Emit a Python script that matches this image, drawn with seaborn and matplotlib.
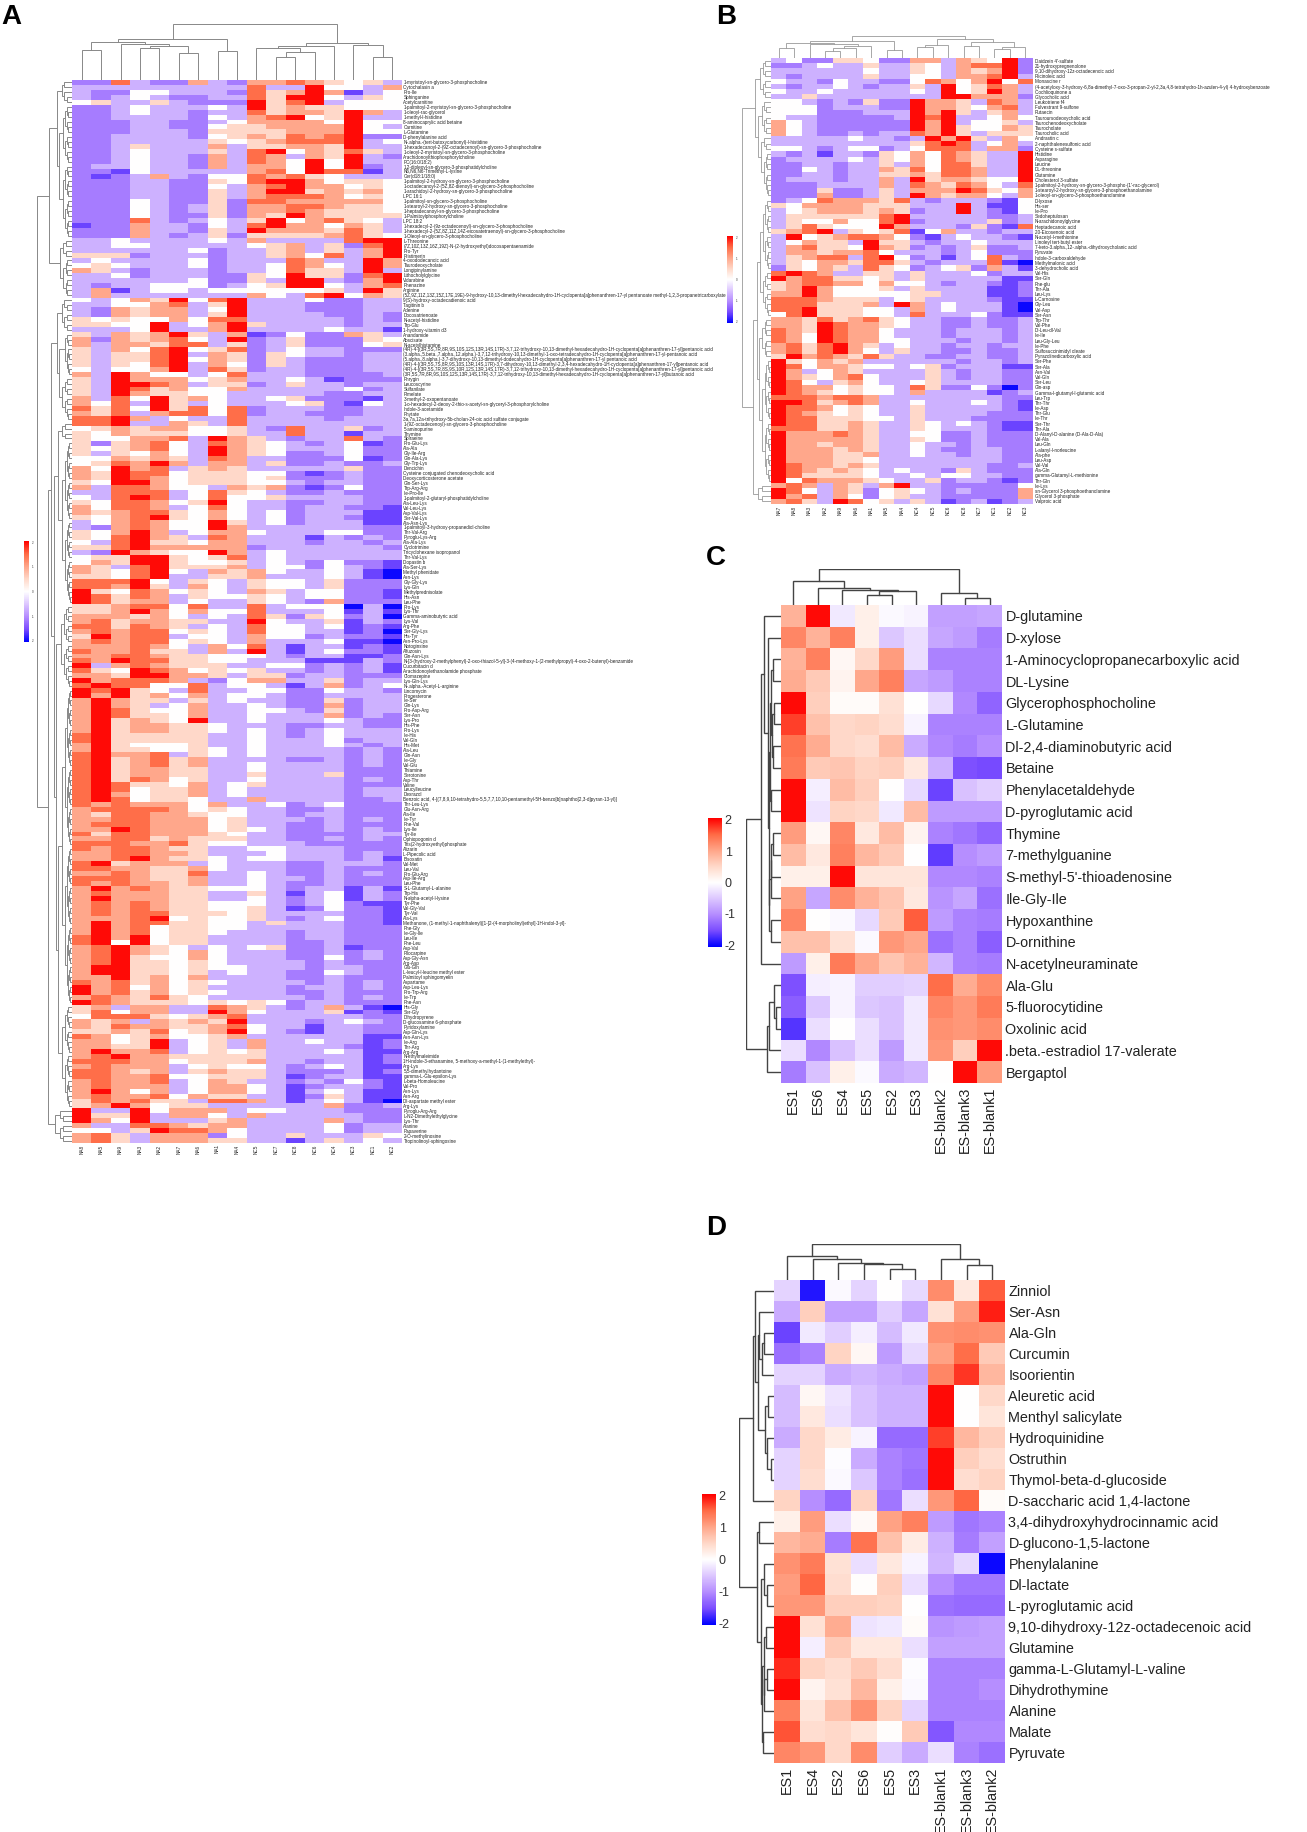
import matplotlib
matplotlib.use('Agg')
import matplotlib.pyplot as plt
from matplotlib.colors import LinearSegmentedColormap
import numpy as np
import pandas as pd
import seaborn as sns

sns.set_style('white')
plt.rcParams['font.family'] = ['Liberation Sans', 'DejaVu Sans']
plt.rcParams['axes.unicode_minus'] = False

W, H = 1307, 1832

# what the colour steps used in A_levels / B_levels stand for
level_values = [-2, -1.6, -1.15, -.7, 0, .5, 1, 1.5, 2]

A_cols = ['NA8', 'NA5', 'NA9', 'NA3', 'NA2', 'NA7', 'NA6', 'NA1', 'NA4',
          'NC5', 'NC7', 'NC8', 'NC6', 'NC4', 'NC3', 'NC1', 'NC2']
A_rows = [
    '1-myristoyl-sn-glycero-3-phosphocholine', 'Cytochalasin a', 'Pro-Ile', 'Sphinganine', 'Acetylcarnitine',
    '1-palmitoyl-2-myristoyl-sn-glycero-3-phosphocholine', '1-oleoyl-rac-glycerol', '1-methyl-l-histidine',
    '8-aminocaprylic acid betaine', 'Carnitine', 'L-Glutamine', 'D-phenylalanine acid',
    'N-.alpha.-(tert-butoxycarbonyl)-l-histidine', '1-hexadecanoyl-2-(9Z-octadecenoyl)-sn-glycero-3-phosphocholine',
    '1-oleoyl-2-myristoyl-sn-glycero-3-phosphocholine', 'Arachidonoylthiophosphorylcholine', 'PC(16:0/18:2)',
    '1,2-dioleoyl-sn-glycero-3-phosphatidylcholine', 'N6,N6,N6-Trimethyl-L-lysine', 'Cer(d18:1/18:0)',
    '1-palmitoyl-2-hydroxy-sn-glycero-3-phosphocholine', '1-octadecanoyl-2-(5Z,8Z-dienoyl)-sn-glycero-3-phosphocholine',
    '1-arachidoyl-2-hydroxy-sn-glycero-3-phosphocholine', 'LPC 16:1', '1-palmitoyl-sn-glycero-3-phosphocholine',
    '1-stearoyl-2-hydroxy-sn-glycero-3-phosphocholine', '1-heptadecanoyl-sn-glycero-3-phosphocholine',
    '1-Palmitoylphosphorylcholine', 'LPC 18:2', '1-hexadecyl-2-(9z-octadecenoyl)-sn-glycero-3-phosphocholine',
    '1-hexadecyl-2-(5Z,8Z,11Z,14Z-eicosatetraenoyl)-sn-glycero-3-phosphocholine', '1-Oleoyl-sn-glycero-3-phosphocholine',
    'L-Threonine', '(7Z,10Z,13Z,16Z,19Z)-N-(2-hydroxyethyl)docosapentaenamide', 'Pro-Tyr', 'Pristimerin',
    '4-oxododecanoic acid', 'Taurodeoxycholate', 'Longipinylamine', 'Lithocholylglycine', 'Vidarabine', 'Phenazine',
    'Arginine',
    '(5Z,9Z,11Z,13Z,15Z,17E,19E)-9-hydroxy-10,13-dimethyl-hexadecahydro-1H-cyclopenta[a]phenanthren-17-yl pentanoate methyl-1,2,3-propanetricarboxylate',
    '9(S)-hydroxy-octadecadienoic acid', 'Tagitinin b', 'Adenine', 'Docosatrienoate', 'N-acetyl-histidine', 'Trp-Glu',
    '1-hydroxy-vitamin d3', 'Anandamide', 'Abscisate', 'N-acetylhistamine',
    '(4R)-4-[(3R,5S,7R,8R,9S,10S,12S,13R,14S,17R)-3,7,12-trihydroxy-10,13-dimethyl-hexadecahydro-1H-cyclopenta[a]phenanthren-17-yl]pentanoic acid',
    '(3.alpha.,5.beta.,7.alpha.,12.alpha.)-3,7,12-trihydroxy-10,13-dimethyl-1-oxo-tetradecahydro-1H-cyclopenta[a]phenanthren-17-yl-pentanoic acid',
    '(5.alpha.,8.alpha.)-3,7-dihydroxy-10,13-dimethyl-dodecahydro-1H-cyclopenta[a]phenanthren-17-yl pentanoic acid',
    '(4R)-4-[(3R,5S,7S,8R,9S,10S,13R,14S,17R)-3,7-dihydroxy-10,13-dimethyl-2,3,4-hexadecahydro-1H-cyclopenta[a]phenanthren-17-yl]pentanoic acid',
    '(4R)-4-[(3R,5S,7R,8S,9S,10R,12S,13R,14S,17R)-3,7,12-trihydroxy-10,13-dimethyl-hexadecahydro-1H-cyclopenta[a]phenanthren-17-yl]pentanoic acid',
    '(3R,5S,7R,8R,9S,10S,12S,13R,14S,17R)-3,7,12-trihydroxy-10,13-dimethyl-hexadecahydro-1H-cyclopenta[a]phenanthren-17-yl]butanoic acid',
    'Phrygin', 'Leucoscyrine', 'Sulfanilate', 'Pimelate', '3-methyl-2-oxopentanoate',
    '1-o-hexadecyl-2-deoxy-2-thio-s-acetyl-sn-glyceryl-3-phosphorylcholine', 'Indole-3-acetamide', 'Phytate',
    '3a,7a,12a-trihydroxy-5b-cholan-24-oic acid sulfate conjugate',
    '1-(9Z-octadecenoyl)-sn-glycero-3-phosphocholine', '5-aminopurine', 'Thymine', 'Spiraeine', 'Pro-Glu-Lys',
    'Ala-Ala', 'Gly-Ile-Arg', 'Gln-Ala-Lys', 'Gly-Trp-Lys', 'Dencichin', 'Cysteine conjugated chenodeoxycholic acid',
    'Deoxycorticosterone acetate', 'Gln-Ser-Lys', 'Trp-Arg-Arg', 'Ile-Pro-Ile',
    '1-palmitoyl-2-glutaryl-phosphatidylcholine', 'Ala-Leu-Lys', 'Val-Leu-Lys', 'Asp-Val-Lys', 'Ser-Val-Lys',
    'Ala-Asn-Lys', '1-palmitoyl-3-hydroxy-propanediol-choline', 'Thr-Val-Arg', 'Pyroglu-Lys-Arg', 'Ala-Ala-Lys',
    'Cyclotrimine', 'Tricyclohexane isopropanol', 'Thr-Val-Lys', 'Dopastin b', 'Ala-Ser-Lys', 'Methyl phenidate',
    'Asn-Lys', 'Gly-Gly-Lys', 'Lys-Gln', 'Methylprednisolate', 'His-Asn', 'Leu-Phe', 'Pro-Lys', 'Lys-Thr',
    'Gamma-aminobutyric acid', 'Lys-Val', 'Arg-Phe', 'Ser-Gly-Lys', 'His-Tyr', 'Asn-Pro-Lys', 'Notoginsine',
    'Alfuzosin', 'Gln-Asn-Lys',
    'N-[3-(hydroxy-2-methylphenyl)-2-oxo-thiazol-5-yl]-3-(4-methoxy-1-(2-methylpropyl)-4-oxo-2-butenyl)-benzamide',
    'Cucurbitacin d', 'Arachidonoylethanolamide phosphate', 'Clomazepine', 'Lys-Gln-Lys', 'N-.alpha.-Acetyl-L-arginine',
    'Lincomycin', 'Progesterone', 'Ile-Ser', 'Gln-Lys', 'Pro-Asp-Arg', 'Ser-Asn', 'Lys-Pro', 'His-Phe', 'Pro-Lys',
    'Ile-His', 'Val-Gln', 'His-Met', 'Ala-Leu', 'Gln-Asn', 'Ile-Gly', 'Val-Glu', 'Thiamine', 'Serotonine', 'Asp-Thr',
    'Valine', 'Leucylleucine', 'Dexrazol',
    'Benzoic acid, 4-[(7,8,9,10-tetrahydro-5,5,7,7,10,10-pentamethyl-5H-benzo[b]naphtho[2,3-d]pyran-13-yl)]',
    'Thr-Leu-Lys', 'Glu-Asn-Arg', 'Ala-Ile', 'Ile-Tyr', 'Phe-Val', 'Lys-Ile', 'Tyr-Ile', 'Ophiopogonin d',
    'Tris(2-hydroxyethyl)phosphate', 'Alizarin', 'L-Pipecolic acid', 'Bisoxatin', 'Val-Met', 'Leu-Val', 'Pro-Glu-Arg',
    'Asp-Ile-Arg', 'Leu-Phe', 'S-L-Glutamyl-L-alanine', 'Trp-His', 'N-alpha-acetyl-l-lysine', 'Tyr-Phe', 'Val-Gly-Val',
    'Tyr-Val', 'Ala-Lys', 'Methanone, (1-methyl-1-naphthalenyl)[1-[2-(4-morpholinyl)ethyl]-1H-indol-3-yl]-',
    'Phe-Gly', 'Ile-Gly-Ile', 'Leu-Ile', 'Phe-Leu', 'Asp-Val', 'Pilocarpine', 'Asp-Gly-Asn', 'Arg-Asp', 'Glu-Gln',
    'L-leucyl-l-leucine methyl ester', 'Palmitoyl sphingomyelin', 'Aspartame', 'Asp-Leu-Lys', 'Pro-Trp-Arg', 'Ile-Trp',
    'Phe-Asn', 'His-Gly', 'Ser-Gly', 'Dihydropyrene', 'D-glucosamine 6-phosphate', 'Pyridoxylamine', 'Asp-Gln-Lys',
    'Asn-Asn-Lys', 'Ile-Arg', 'Thr-Arg', 'Arg-Arg', 'N-ethylmaleimide',
    '1H-indole-3-ethanamine, 5-methoxy-a-methyl-1-(1-methylethyl)-', 'Arg-Lys', '5,5-dimethylhydantoine',
    'gamma-L-Glu-epsilon-Lys', 'L-beta-Homoleucine', 'Val-Pro', 'Asn-Lys', 'Asn-Arg', 'Dl-aspartate methyl ester',
    'Arg-Lys', 'Pyroglu-Arg-Arg', 'L-N2-Dimethylethylglycine', 'Lys-Thr', 'Alanine', 'Papaverine', '2-O-methylinosine',
    'Tropinolinoyl-sphingosine',
]
A_levels = [
    '227322632 66765453', '333333333 73384436', '322443332 75686134', '323432233 75884354', '453353222 85783444',
    '223433343 85655444', '223433233 75665863', '223333243 67845833', '222332234 66664844', '222332245 56666843',
    '222333255 55666844', '223333245 65767822', '223333354 56777834', '223533363 55665833', '223433353 78465753',
    '223433263 76365832', '223433263 76484833', '233433263 66484823', '221433333 67487713', '212363244 76754333',
    '222332254 78864554', '222332243 67866454', '222332253 68856564', '222332253 67776454', '222432252 77666664',
    '222432352 66776554', '222432352 66765554', '222432252 65865555', '222732343 58467543', '122633243 78664653',
    '222633253 86665753', '222632352 55556754', '334333343 63333788', '334433333 45635278', '333333423 35635368',
    '555233323 35647368', '343333423 33763386', '454333423 34764386', '653233323 34755383', '334233322 54855278',
    '333333422 53883268', '323344423 45884367', '361344344 44445385', '363333333 64378465', '434658478 33342233',
    '334467358 33322233', '326566348 33322233', '326566358 33332232', '545446477 33333232', '554483468 53333233',
    '333483368 33334331', '536568536 12422653', '626567438 23522254', '636657735 23522245', '536478457 23433222',
    '535578365 25433233', '535578465 25322233', '535478364 25322233', '434468375 23322233', '638644347 33322223',
    '538666456 33431222', '538876355 23533233', '538756446 33333423', '538655443 33332233', '637485643 34522213',
    '647385343 33452143', '757485747 23332233', '657367747 23322233', '778634337 33332333', '778336537 33333333',
    '456566445 32733523', '546555445 33733133', '544667386 53233732', '525674376 54323412', '545674386 54333422',
    '535464386 54223422', '446565376 33222412', '457686366 35223223', '648673565 33333522', '658774555 44212322',
    '658764555 45222322', '548864555 44323322', '637764436 56212422', '337773475 43223222', '437873474 45333322',
    '547764584 33223322', '647763474 33233221', '656775464 34233311', '546785464 34233211', '346764485 34233311',
    '326764486 33333322', '546863466 43334422', '547865376 33313232', '437855466 33323323', '557866666 23333332',
    '328654486 34333333', '455885457 34333333', '465885445 34324221', '653785556 34424321', '654784365 64334310',
    '554783355 63334310', '777843543 54435222', '776853643 54435222', '854764543 65344221', '875763544 54344221',
    '875663433 54326222', '556774733 73444030', '556864644 73334131', '666564343 75254230', '675665533 84335132',
    '775765343 74434121', '676774543 74433120', '586773443 64423221', '676774543 63334110', '666764364 73133121',
    '766755363 83134221', '667765544 43233112', '768775544 33311132', '836765553 34423231', '754876454 53323231',
    '665886653 55233222', '867776324 66335233', '787744734 43136234', '878543733 44224332', '868564634 43223333',
    '686553534 33225233', '686534633 43226233', '687544633 44325233', '687554633 43336232', '685654833 43334322',
    '685665543 33223322', '685665543 43234333', '785555533 43234333', '785555533 43334233', '685444533 43334323',
    '685544543 43333232', '786673543 43333232', '785675633 33223232', '785675633 43333232', '785665533 43333222',
    '785665533 53335222', '785764533 43333232', '787554634 53333222', '787455634 33333233', '786455634 33333233',
    '787455433 63333223', '767666463 34234222', '677776454 33223222', '657766544 33233222', '667766645 33323232',
    '677766645 33223222', '668766645 43223232', '757766654 33222233', '667756555 33223232', '777667544 33322222',
    '767765533 44333222', '667766533 34333232', '667865543 44333231', '785666343 33223332', '776655643 33223222',
    '667655733 43223232', '777655633 43323222', '767665633 43223222', '686765544 43233131', '676665533 53134132',
    '686665533 43234132', '676765544 43234211', '676765544 53124221', '676775554 53333221', '666784544 53234221',
    '686775544 35333221', '686745544 33333222', '686745543 33233222', '786845533 33233222', '784845533 33223222',
    '678654343 45223122', '678654643 33223232', '678544643 33224232', '678554543 33323222', '688554544 33323322',
    '688554534 33224322', '668564633 33223222', '767564543 33323232', '867464533 33233232', '867564543 33223222',
    '676575433 33323232', '876555454 54233222', '563663376 53236310', '574663386 43335121', '477754567 33333322',
    '656365658 33323432', '657665567 43313322', '556574568 43213322', '764564456 33333311', '664583453 63343312',
    '665583453 63333212', '686673454 53334311', '678665555 53333312', '777664555 63323312', '676663454 43234311',
    '776563565 53222312', '776674455 53123311', '676673465 33232421', '676663466 43123321', '686463466 43134311',
    '676674655 33125311', '576755377 63134310', '568645533 33336223', '833846663 44333222', '855836643 63333322',
    '864833356 33336322', '633776566 33334233', '443587764 33334233', '675366624 33533354', '675366655 33135343',
]

B_cols = ['NA7', 'NA8', 'NA3', 'NA2', 'NA9', 'NA6', 'NA1', 'NA5', 'NA4',
          'NC4', 'NC5', 'NC6', 'NC8', 'NC7', 'NC1', 'NC2', 'NC3']
B_rows = [
    "Daidzein 4'-sulfate", '21-hydroxypregnenolone', '9,10-dihydroxy-12z-octadecenoic acid', 'Ricinoleic acid',
    'Monascine r',
    '(4-acetyloxy-3-hydroxy-6,8a-dimethyl-7-oxo-3-propan-2-yl-2,3a,4,8-tetrahydro-1h-azulen-4-yl) 4-hydroxybenzoate',
    'Cochlioquinone a', 'Glycocholic acid', 'Leukotriene f4', 'Fulvestrant 9-sulfone', 'Rutaecin',
    'Tauroursodeoxycholic acid', 'Taurochenodeoxycholate', 'Taurocholate', 'Taurocholic acid', 'Andrastin c',
    '2-naphthalenesulfonic acid', 'Cysteine s-sulfate', 'Histidine', 'Asparagine', 'Leucine', 'DL-threonine',
    'Glutamine', 'Cholesterol 3-sulfate',
    "1-palmitoyl-2-hydroxy-sn-glycero-3-phospho-(1'-rac-glycerol)",
    '1-stearoyl-2-hydroxy-sn-glycero-3-phosphoethanolamine', '1-oleoyl-sn-glycero-3-phosphoethanolamine', 'D-lyxose',
    'His-ser', 'Ile-Pro', 'Sedoheptulosan', 'N-arachidonoylglycine', 'Heptadecanoic acid', '20-Eicosenoic acid',
    'N-acetyl-l-methionine', 'Linoleyl tert-butyl ester', '7-keto-3.alpha.,12-.alpha.-dihydroxycholanic acid',
    'Pyruvate', 'Indole-3-carboxaldehyde', 'Methylmalonic acid', '3-dehydrocholic acid', 'Val-His', 'Ser-Gln',
    'Phe-glu', 'Thr-Ala', 'Leu-Lys', 'L-Carnosine', 'Gly-Leu', 'Val-Asp', 'Ser-Asn', 'Trp-Thr', 'Val-Phe',
    'Dl-Leu-dl-Val', 'Ile-Ile', 'Leu-Gly-Leu', 'Ile-Phe', 'Sulfosuccinimidyl oleate', 'Pyrazolinedicarboxylic acid',
    'Ser-Phe', 'Ser-Ala', 'Asn-Val', 'Val-Gln', 'Ser-Leu', 'Gln-asp', 'Gamma-l-glutamyl-l-glutamic acid', 'Leu-Trp',
    'Thr-Thr', 'Ile-Asp', 'Thr-Glu', 'Ile-Thr', 'Ser-Thr', 'Thr-Ala', 'D-Alanyl-D-alanine (D-Ala-D-Ala)', 'Val-Ala',
    'Leu-Gln', 'L-alanyl-l-norleucine', 'Ala-phe', 'Leu-Asp', 'Val-Val', 'Ala-Gln', 'gamma-Glutamyl-L-methionine',
    'Thr-Gln', 'Ile-Lys', 'sn-Glycerol 3-phosphoethanolamine', 'Glycerol 3-phosphate', 'Valproic acid',
]
B_levels = [
    '342255422 66365482', '223433533 54367782', '333333433 54365682', '323333533 44366783', '433243322 47646847',
    '323343233 53845763', '433433333 43845863', '335333333 33886662', '443232522 86653763', '444233322 86654673',
    '444222333 86853563', '433222223 87833464', '643222222 86834453', '643222222 86854465', '643223233 76853555',
    '333334332 38685364', '333333333 57873463', '443234423 47773662', '323133254 64765338', '233334354 64765338',
    '223323353 64775338', '224323365 74776338', '223323355 65776338', '233323363 85665448', '222333363 76576437',
    '222522353 66687546', '222622353 86566436', '234766657 32333214', '546666555 33383114', '345666565 23383214',
    '355555578 33333223', '354464478 23333523', '357544486 33325217', '567835457 14633233', '384567764 21343321',
    '346553855 32334333', '367554865 23235223', '366566743 33234222', '356773784 23134732', '354665775 32333710',
    '254653754 23452631', '787633553 53334233', '867755453 53333311', '567766464 43233212', '568644453 53333112',
    '668644444 55333112', '777655534 53333211', '777555638 63433310', '778555443 63433310', '478555443 73334211',
    '665756754 33223223', '665876654 33223223', '765876643 33233323', '764876643 33233323', '764876644 33323323',
    '675786534 33233233', '675786435 33223223', '586765753 32233223', '854656333 33323323', '874665443 45233311',
    '863465333 35323322', '865467433 35323322', '874356433 45333322', '876645443 75224202', '876545443 63333123',
    '777677633 33333322', '887567633 43334321', '877645433 53333321', '876545433 53333222', '877555443 53332222',
    '877556533 54343211', '777556533 54333211', '866676533 44223222', '866666533 54223222', '866566533 43323222',
    '866656533 43223322', '866655633 43323322', '866655433 33333322', '876656533 33333223', '876565434 33253222',
    '875555433 43443322', '847666543 35233212', '676365368 33222224', '874365245 43232226', '867364245 33222226',
    '675387453 53123123',
]

C_cols = ['ES1', 'ES6', 'ES4', 'ES5', 'ES2', 'ES3', 'ES-blank2', 'ES-blank3', 'ES-blank1']
C_rows = ['D-glutamine', 'D-xylose', '1-Aminocyclopropanecarboxylic acid', 'DL-Lysine', 'Glycerophosphocholine',
          'L-Glutamine', 'Dl-2,4-diaminobutyric acid', 'Betaine', 'Phenylacetaldehyde', 'D-pyroglutamic acid', 'Thymine',
          '7-methylguanine', "S-methyl-5'-thioadenosine", 'Ile-Gly-Ile', 'Hypoxanthine', 'D-ornithine',
          'N-acetylneuraminate', 'Ala-Glu', '5-fluorocytidine', 'Oxolinic acid', '.beta.-estradiol 17-valerate',
          'Bergaptol']
C_values = [
    [.9, 2, -.2, .2, -.05, -.1, -.85, -.85, -.8],
    [1.3, .9, 1.35, .2, -.5, -.3, -.8, -.9, -1.15],
    [.9, 1.35, .1, .5, 1.1, -.3, -1.1, -1.1, -1.1],
    [.95, .65, .15, 1.0, 1.35, -.8, -.9, -1.1, -1.1],
    [2, .6, .05, .05, .4, 0, -.35, -1.05, -1.35],
    [1.75, .75, .5, .55, .45, -.1, -1.1, -1.1, -1.1],
    [1.45, .95, .5, .45, .8, -.75, -1.05, -1.15, -1.0],
    [1.4, .65, .7, .55, .6, .3, -.7, -1.5, -1.55],
    [2, -.15, .8, .6, 0, -.35, -1.6, -.55, -.45],
    [2, -.25, .55, .5, -.2, .8, -.9, -.9, -.9],
    [1.1, .1, 1.3, .3, .8, .15, -1.1, -1.2, -1.35],
    [.8, .3, 1.35, .85, .65, 0, -1.65, -1, -.9],
    [.2, .2, 2, .35, .35, .35, -1.05, -1.05, -1.1],
    [1.05, -.8, 1.25, .9, .7, .3, -.95, -.8, -1.25],
    [1.3, 0, -.05, -.35, .65, 1.6, -.9, -1.1, -1.15],
    [.75, .75, .4, -.05, 1.15, 1, -1.25, -1.1, -1.4],
    [-.9, .2, 1.4, 1.0, .7, .9, -.65, -1.1, -1.15],
    [-1.5, -.15, -.1, -.45, -.45, -.4, 1.5, .95, 1.25],
    [-1.4, -.5, -.1, -.5, -.55, -.2, 1.3, 1.15, 1.4],
    [-1.7, -.3, 0, -.3, -.55, -.2, 1.2, 1.15, 1.25],
    [-.3, -1.05, -.55, -.3, -.9, -.2, 1.15, .6, 2],
    [-1.15, -.55, .2, -.05, -.75, -.65, 0, 2, 1.1],
]

D_cols = ['ES1', 'ES4', 'ES2', 'ES6', 'ES5', 'ES3', 'ES-blank1', 'ES-blank3', 'ES-blank2']
D_rows = ['Zinniol', 'Ser-Asn', 'Ala-Gln', 'Curcumin', 'Isoorientin', 'Aleuretic acid', 'Menthyl salicylate',
          'Hydroquinidine', 'Ostruthin', 'Thymol-beta-d-glucoside', 'D-saccharic acid 1,4-lactone',
          '3,4-dihydroxyhydrocinnamic acid', 'D-glucono-1,5-lactone', 'Phenylalanine', 'Dl-lactate',
          'L-pyroglutamic acid', '9,10-dihydroxy-12z-octadecenoic acid', 'Glutamine', 'gamma-L-Glutamyl-L-valine',
          'Dihydrothymine', 'Alanine', 'Malate', 'Pyruvate']
D_values = [
    [-.4, -1.9, -.05, -.4, 0, -.35, 1.25, .3, 1.6],
    [-.75, .6, -.85, -.85, -.45, -.8, .4, 1.1, 1.9],
    [-1.6, -.2, -.45, -.15, -.6, -.2, 1.2, 1.25, 1.2],
    [-1.25, -1.1, .55, .1, -.9, -.35, 1.05, 1.5, .65],
    [-.4, -.4, -.75, -.65, -.75, -.85, 1.3, 1.8, .85],
    [-.6, .1, -.25, -.55, -.7, -.7, 2, 0, .5],
    [-.6, .3, -.3, -.55, -.7, -.7, 2, 0, .35],
    [-.75, .5, .25, -.1, -1.3, -1.3, 1.75, .85, .6],
    [-.4, .5, -.02, -.75, -1.1, -1.2, 2, .6, .45],
    [-.4, .45, -.05, -.5, -1.1, -1.25, 2, .45, .55],
    [.55, -1, -1.3, .55, -1.2, -.3, 1.15, 1.55, .05],
    [.2, 1.1, -.3, .08, 1.05, 1.35, -.9, -1.2, -1.1],
    [.85, .95, -1.15, 1.45, .75, .25, -.7, -1.15, -.85],
    [1.2, 1.4, .4, -.3, .3, -.1, -.65, -.35, -2],
    [1.1, 1.55, .45, .02, .6, -.3, -1, -1.2, -1.2],
    [1.15, 1.15, .6, .6, .55, 0, -1.25, -1.3, -1.3],
    [2, .4, .95, -.25, -.2, .05, -.95, -.9, -.85],
    [2, -.15, .65, .3, .3, -.3, -.85, -.85, -.85],
    [1.85, .55, .45, .65, .45, -.03, -1.1, -1.1, -1.1],
    [2, .15, .4, .85, .2, -.05, -1.1, -1.1, -1.0],
    [1.35, .35, .75, 1.2, .55, -.4, -1.1, -1.1, -1.1],
    [1.65, .45, .5, .35, .02, .65, -1.45, -1.05, -1.05],
    [1.3, 1.15, .5, 1.25, -.45, -.75, -.3, -1.1, -1.25],
]

# cluster trees: (height, left, right), an int is that many leaves
A_col_tree = (1.0, (.73, (.68, (.54, 1, 1), (.64, 1, (.6, (.57, 1, 1), (.47, 1, 1)))), (.52, 1, 1)),
              (.66, (.6, (.56, 1, (.5, (.41, 1, 1), 1)), 1), (.62, 1, (.4, 1, 1))))
A_row_tree = (1.0, (.66, (.42, 5, (.38, 12, 15)), (.36, 4, 8)),
              (.68, (.6, (.42, 7, (.38, (.2, 3, 6), (.3, 4, 5))),
                     (.52, (.4, 4, 33), (.46, 17, (.4, 64, 21)))), 7))
B_col_tree = (1.0, (.8, (.7, (.45, 1, 1), (.65, 1, (.55, (.45, (.3, 1, 1), 1), 1))), (.38, 1, 1)),
              (.85, (.6, (.5, 1, 1), 1), (.75, (.55, 1, 1), (.5, (.4, 1, 1), 1))))
B_row_tree = (1.0, (.55, (.4, 4, 4), (.45, 7, (.35, 3, 9))),
              (.62, (.5, (.4, 14, 9), (.42, 8, 24)), 4))
C_col_tree = (1.0, (.67, 1, (.49, 1, (.41, 1, (.38, (.29, 1, 1), 1)))), (.33, 1, (.2, 1, 1)))
C_row_tree = (1.0, (.565, (.49, 1, (.38, 1, (.36, (.33, (.3, (.24, 1, 1), (.27, (.2, 1, 1), (.23, 1, 1))), (.29, 1, 1)),
                                       (.34, (.3, (.28, (.22, 1, 1), 1), 1), (.3, 1, 1))))), 1),
              (.41, (.35, (.2, 1, (.13, 1, 1)), 1), 1))
D_col_tree = (1.0, (.66, 1, (.58, 1, (.49, 1, (.46, 1, (.32, 1, 1))))), (.58, 1, (.41, 1, 1)))
D_row_tree = (1.0, (.6, (.56, 1, (.47, (.42, 1, (.34, (.3, 1, 1), 1)),
                                  (.26, (.18, 1, 1), (.21, 1, (.1, 1, 1))))), 1),
              (.5, (.42, 1, 1), (.38, (.3, 1, (.2, 1, 1)),
                                 (.36, (.3, (.24, 1, 1), (.28, (.2, 1, 1), 1)), (.32, 1, 1)))))

cmap = LinearSegmentedColormap.from_list('bwr_lab', [
    '#0000FF', '#7A4CFF', '#B48CFF', '#DCC6FF', '#FFFFFF',
    '#FFD8C8', '#FFA588', '#FF6A45', '#FF0000'], N=256)


def px_axes(fig, x0, y0, x1, y1):
    return fig.add_axes([x0 / W, 1 - y1 / H, (x1 - x0) / W, (y1 - y0) / H])


def draw_tree(ax, node, start, parent_h, horizontal):
    # returns leaf position and merge height, draws the forks on the way
    if isinstance(node, int):
        if node == 1:
            return start + .5, 0.0, start + 1
        k = node // 2
        node = (parent_h * .72, k, node - k)
    h, left, right = node
    p1, h1, nxt = draw_tree(ax, left, start, h, horizontal)
    p2, h2, nxt = draw_tree(ax, right, nxt, h, horizontal)
    xs = [p1, p1, p2, p2]
    ys = [h1, h, h, h2]
    if horizontal:
        ax.plot(xs, ys, color=ax.tree_color, lw=ax.tree_lw, solid_joinstyle='miter')
    else:
        ax.plot(ys, xs, color=ax.tree_color, lw=ax.tree_lw, solid_joinstyle='miter')
    return (p1 + p2) / 2, h, nxt


def dendro(fig, box, tree, n, horizontal, color, lw):
    ax = px_axes(fig, *box)
    ax.tree_color, ax.tree_lw = color, lw
    draw_tree(ax, tree, 0, 1.0, horizontal)
    if horizontal:
        ax.set_xlim(0, n)
        ax.set_ylim(0, 1.01)
    else:
        ax.set_ylim(n, 0)
        ax.set_xlim(1.01, 0)
    ax.axis('off')


def panel(fig, values, rows, cols, box, top_y, left_x, cbar_box, row_tree, col_tree,
          fs, cfs, cb_fs, color, lw, pad):
    x0, y0, x1, y1 = box
    df = pd.DataFrame(values, index=rows, columns=cols)
    ax = px_axes(fig, x0, y0, x1, y1)
    cax = px_axes(fig, *cbar_box)
    sns.heatmap(df, ax=ax, cmap=cmap, vmin=-2.06, vmax=2.06, cbar_ax=cax, linewidths=0,
                xticklabels=True, yticklabels=True, cbar_kws={'ticks': [-2, -1, 0, 1, 2]})
    ax.yaxis.tick_right()
    ax.tick_params(axis='y', length=0, pad=pad, labelsize=fs, labelcolor='#222222', rotation=0)
    ax.tick_params(axis='x', length=0, pad=pad, labelsize=cfs, labelcolor='#222222', rotation=90)
    ax.set_xlabel('')
    ax.set_ylabel('')
    cax.tick_params(axis='y', length=(cbar_box[2] - cbar_box[0]) * .2 * .72, width=.6, color='white', direction='in',
                    left=True, right=True, labelsize=cb_fs, pad=2, labelcolor='#333333')
    for s in cax.spines.values():
        s.set_visible(False)
    dendro(fig, (x0, top_y, x1, y0), col_tree, len(cols), True, color, lw)
    dendro(fig, (left_x, y0, x0, y1), row_tree, len(rows), False, color, lw)


fig = plt.figure(figsize=(W / 100, H / 100), dpi=100)

A_values = [[level_values[int(c)] for c in s.replace(' ', '')] for s in A_levels]
B_values = [[level_values[int(c)] for c in s.replace(' ', '')] for s in B_levels]

panel(fig, A_values, A_rows, A_cols, (72, 80, 402, 1143), 23, 37, (24, 541, 29, 642),
      A_row_tree, A_col_tree, 3.3, 3.3, 2.2, '#888888', .7, 1)
panel(fig, B_values, B_rows, B_cols, (771, 58, 1033, 504), 36, 742, (727, 236, 733, 323),
      B_row_tree, B_col_tree, 3.3, 3.3, 2.2, '#999999', .6, 1.5)
panel(fig, C_values, C_rows, C_cols, (781, 605, 1002, 1083), 569, 746, (708, 818, 722, 947),
      C_row_tree, C_col_tree, 10.4, 10.4, 9, '#444444', 1, 2.5)
panel(fig, D_values, D_rows, D_cols, (774, 1280, 1005, 1763), 1244, 739, (702, 1494, 716, 1625),
      D_row_tree, D_col_tree, 10.4, 10.4, 9, '#444444', 1, 2.5)

for letter, x, y in [('A', 1, 24), ('B', 716, 24), ('C', 706, 565), ('D', 706, 1235)]:
    fig.text(x / W, 1 - y / H, letter, fontsize=20, fontweight='bold', color='black', va='baseline', ha='left')

fig.savefig('out.png', dpi=100)
